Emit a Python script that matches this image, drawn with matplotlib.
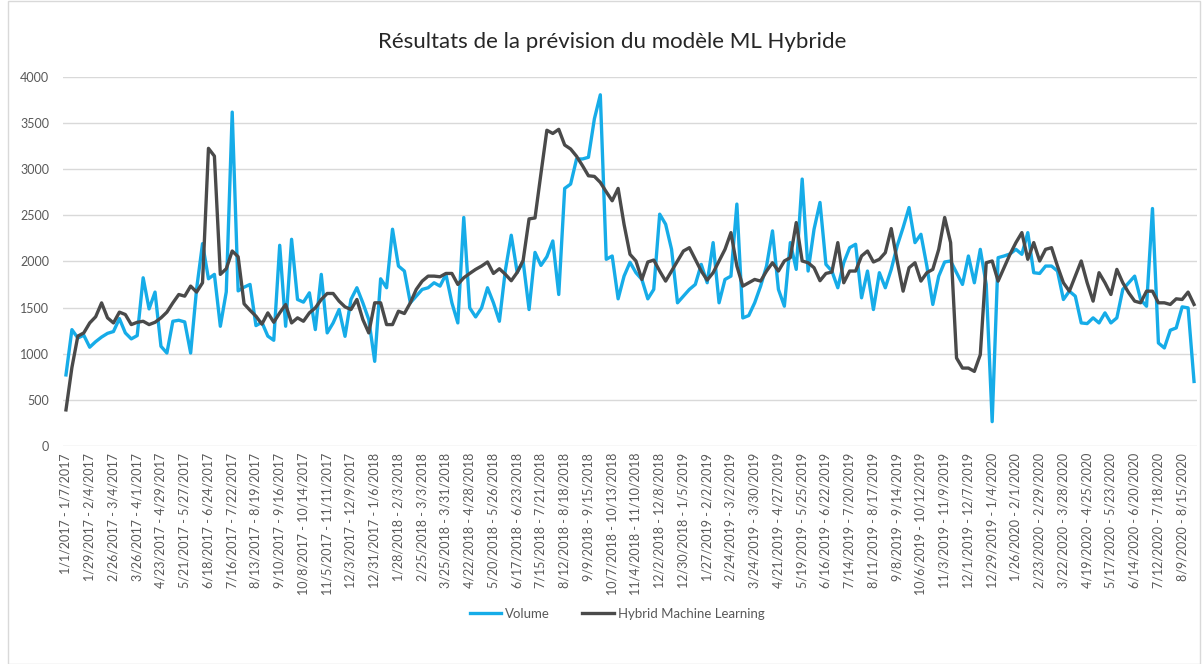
import pandas as pd
import matplotlib.pyplot as plt

# weekly volume and hybrid ML forecast, 2017-01-01 onwards
volume = [
    770, 1260, 1170, 1200, 1070, 1130, 1180, 1220, 1240, 1380,
    1225, 1160, 1196, 1822, 1485, 1667, 1080, 1007, 1351, 1362,
    1344, 1007, 1700, 2192, 1811, 1859, 1297, 1670, 3616, 1680,
    1720, 1750, 1304, 1340, 1190, 1145, 2174, 1297, 2239, 1587,
    1558, 1659, 1261, 1859, 1225, 1333, 1478, 1188, 1587, 1714,
    1551, 1370, 917, 1811, 1714, 2348, 1949, 1895, 1551, 1623,
    1696, 1714, 1768, 1732, 1859, 1551, 1333, 2475, 1496, 1398,
    1496, 1714, 1551, 1351, 1900, 2283, 1880, 2000, 1478, 2097,
    1956, 2050, 2221, 1641, 2790, 2837, 3109, 3109, 3127, 3543,
    3804, 2022, 2058, 1594, 1840, 1990, 1877, 1804, 1594, 1696,
    2511, 2402, 2130, 1551, 1623, 1696, 1750, 1967, 1768, 2203,
    1551, 1804, 1840, 2620, 1387, 1413, 1551, 1732, 1949, 2330,
    1696, 1514, 2203, 1913, 2891, 1895, 2348, 2638, 1967, 1895,
    1714, 1985, 2148, 2185, 1605, 1895, 1478, 1877, 1714, 1913,
    2167, 2366, 2583, 2203, 2293, 1949, 1533, 1840, 1993, 2004,
    1877, 1750, 2058, 1768, 2130, 1750, 264, 2040, 2058, 2080,
    2130, 2076, 2311, 1877, 1869, 1949, 1949, 1895, 1587, 1677,
    1623, 1333, 1326, 1388, 1333, 1442, 1333, 1388, 1696, 1768,
    1840, 1587, 1514, 2572, 1116, 1062, 1254, 1279, 1507, 1496,
    699,
]

hybrid = [
    391, 850, 1190, 1225, 1333, 1400, 1550, 1388, 1333, 1450,
    1424, 1315, 1340, 1351, 1315, 1340, 1388, 1450, 1550, 1641,
    1623, 1732, 1667, 1768, 3224, 3140, 1859, 1920, 2112, 2050,
    1540, 1470, 1406, 1320, 1442, 1340, 1442, 1532, 1333, 1388,
    1351, 1442, 1496, 1587, 1652, 1652, 1569, 1507, 1478, 1587,
    1370, 1225, 1551, 1551, 1315, 1315, 1460, 1435, 1551, 1696,
    1786, 1840, 1840, 1833, 1869, 1869, 1750, 1822, 1869, 1913,
    1949, 1993, 1869, 1920, 1860, 1790, 1880, 2010, 2460, 2470,
    2950, 3420, 3385, 3430, 3260, 3217, 3138, 3036, 2927, 2920,
    2855, 2753, 2656, 2790, 2400, 2076, 2004, 1804, 1993, 2014,
    1895, 1786, 1895, 2004, 2112, 2148, 2022, 1895, 1797, 1877,
    2004, 2130, 2311, 1949, 1732, 1768, 1804, 1786, 1895, 1985,
    1895, 2004, 2040, 2420, 2004, 1985, 1931, 1790, 1869, 1884,
    2203, 1768, 1895, 1895, 2058, 2112, 1993, 2022, 2094, 2355,
    2004, 1677, 1931, 1985, 1786, 1877, 1913, 2130, 2475, 2203,
    953, 844, 844, 808, 989, 1985, 2004, 1786, 1931, 2076,
    2203, 2311, 2022, 2203, 2004, 2130, 2148, 1949, 1768, 1677,
    1840, 2004, 1768, 1569, 1877, 1768, 1641, 1913, 1768, 1659,
    1569, 1551, 1677, 1677, 1551, 1551, 1533, 1594, 1587, 1667,
    1533,
]

# week ranges used as category labels
week_start = pd.date_range('2017-01-01', periods=len(volume), freq='7D')
week_label = [f'{d.month}/{d.day}/{d.year} - {e.month}/{e.day}/{e.year}'
              for d, e in zip(week_start, week_start + pd.Timedelta(days=6))]

plt.rcParams['font.family'] = ['Lato', 'DejaVu Sans']

fig = plt.figure(figsize=(12.03, 6.64), dpi=100)
ax = fig.add_axes([63 / 1203, 1 - 446 / 664, (1197 - 63) / 1203, (446 - 76.7) / 664])

x = list(range(len(volume)))
ax.plot(x, volume, color='#16ACE8', lw=2.4, label='Volume', solid_joinstyle='round')
ax.plot(x, hybrid, color='#4A4A4A', lw=2.4, label='Hybrid Machine Learning', solid_joinstyle='round')

ax.set_xlim(-0.5, len(volume) - 0.5)
ax.set_ylim(0, 4000)
ax.set_yticks(range(0, 4001, 500))
ax.yaxis.grid(True, color='#D9D9D9', lw=1)
ax.set_axisbelow(True)
for s in ax.spines.values():
    s.set_visible(False)

ax.set_xticks(x[::4])
ax.set_xticklabels(week_label[::4], rotation=90, fontsize=9, color='#595959')
ax.tick_params(axis='x', length=0, pad=5)
ax.tick_params(axis='y', length=0, pad=10, labelsize=9, labelcolor='#595959')

fig.text(612 / 1203, 1 - 42 / 664, 'Résultats de la prévision du modèle ML Hybride',
         ha='center', va='center', fontsize=16, color='#262626')

fig.legend(loc='center', bbox_to_anchor=(617 / 1203, 1 - 614 / 664), ncol=2,
           frameon=False, fontsize=9.5, handlelength=2.4, handletextpad=0.3,
           columnspacing=2.4, labelcolor='#595959')

# thin chart border
fig.patches.append(plt.Rectangle((8 / 1203, 0.5 / 664), 1192 / 1203, 1 - 1.5 / 664,
                                 transform=fig.transFigure, fill=False,
                                 edgecolor='#D9D9D9', lw=1))

fig.savefig('out.png', dpi=100)
